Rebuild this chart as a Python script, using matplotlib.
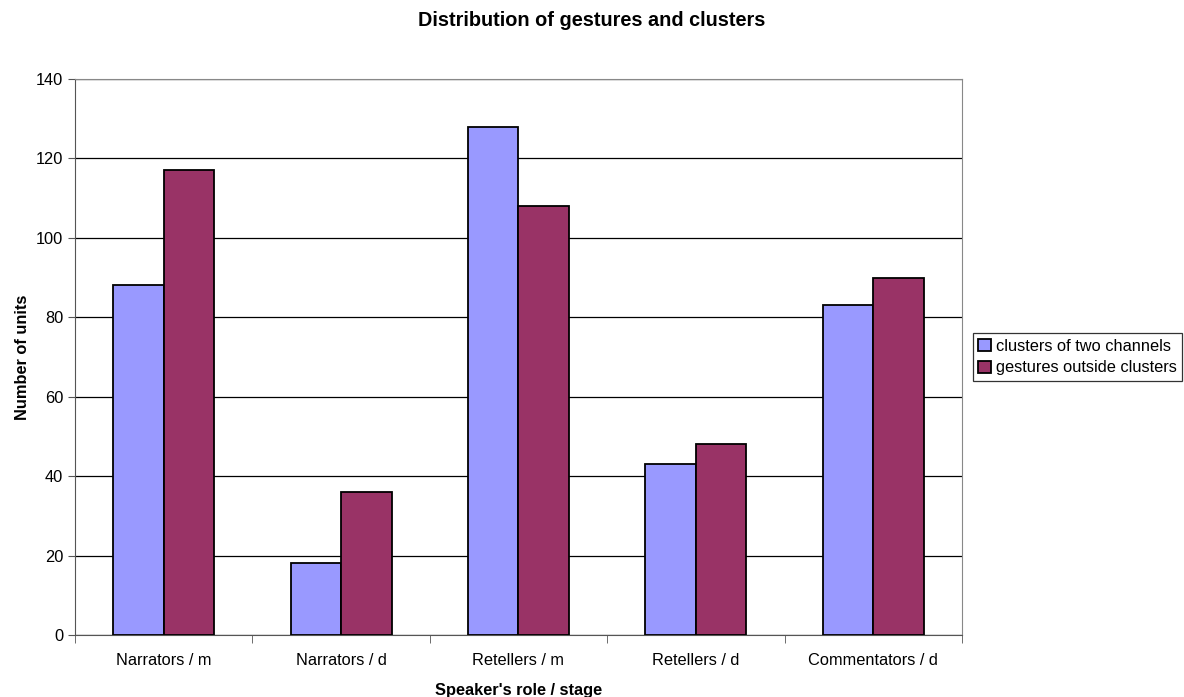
import numpy as np
import matplotlib
matplotlib.use("Agg")
import matplotlib.pyplot as plt

plt.rcParams["font.family"] = ["Liberation Sans", "DejaVu Sans"]

categories = ["Narrators / m", "Narrators / d", "Retellers / m", "Retellers / d", "Commentators / d"]
clusters = [88, 18, 128, 43, 83]
outside = [117, 36, 108, 48, 90]

fig = plt.figure(figsize=(11.84, 6.97), dpi=100)
ax = fig.add_axes([0.0633, 0.089, 0.7492, 0.7977])

x = np.arange(len(categories))
w = 0.285
ax.bar(x - w / 2, clusters, w, color="#9999ff", edgecolor="black", linewidth=1.3,
       label="clusters of two channels", zorder=3)
ax.bar(x + w / 2, outside, w, color="#993366", edgecolor="black", linewidth=1.3,
       label="gestures outside clusters", zorder=3)

ax.set_xlim(-0.5, len(categories) - 0.5)
ax.set_ylim(0, 140)
ax.set_yticks(range(0, 141, 20))
ax.yaxis.grid(True, color="black", linewidth=0.9, zorder=0)
ax.set_axisbelow(True)

# category labels centred, tick marks on the group boundaries
ax.set_xticks(x)
ax.set_xticklabels(categories, fontsize=11.8)
ax.tick_params(axis="x", length=0, pad=13)
ax.set_xticks(np.arange(-0.5, len(categories)), minor=True)
ax.tick_params(axis="x", which="minor", length=6, direction="out", color="#555555")
ax.tick_params(axis="y", length=5, direction="out", labelsize=11.8, color="#555555")

for side in ["top", "right"]:
    ax.spines[side].set_color("#888888")
ax.spines["left"].set_color("#555555")
ax.spines["bottom"].set_color("#555555")

fig.text(0.5, 1 - 20 / 697, "Distribution of gestures and clusters", fontsize=14.3,
         fontweight="bold", ha="center", va="center")
ax.set_xlabel("Speaker's role / stage", fontsize=11.8, fontweight="bold", labelpad=11)
ax.set_ylabel("Number of units", fontsize=11.8, fontweight="bold", labelpad=4)

leg = ax.legend(loc="center left", bbox_to_anchor=(1.012, 0.5), fontsize=11.8,
                frameon=True, fancybox=False, edgecolor="black", handlelength=0.75,
                handleheight=0.75, handletextpad=0.3, borderpad=0.35, labelspacing=0.4,
                borderaxespad=0)
leg.get_frame().set_linewidth(0.9)

fig.savefig("out.png", dpi=100)
